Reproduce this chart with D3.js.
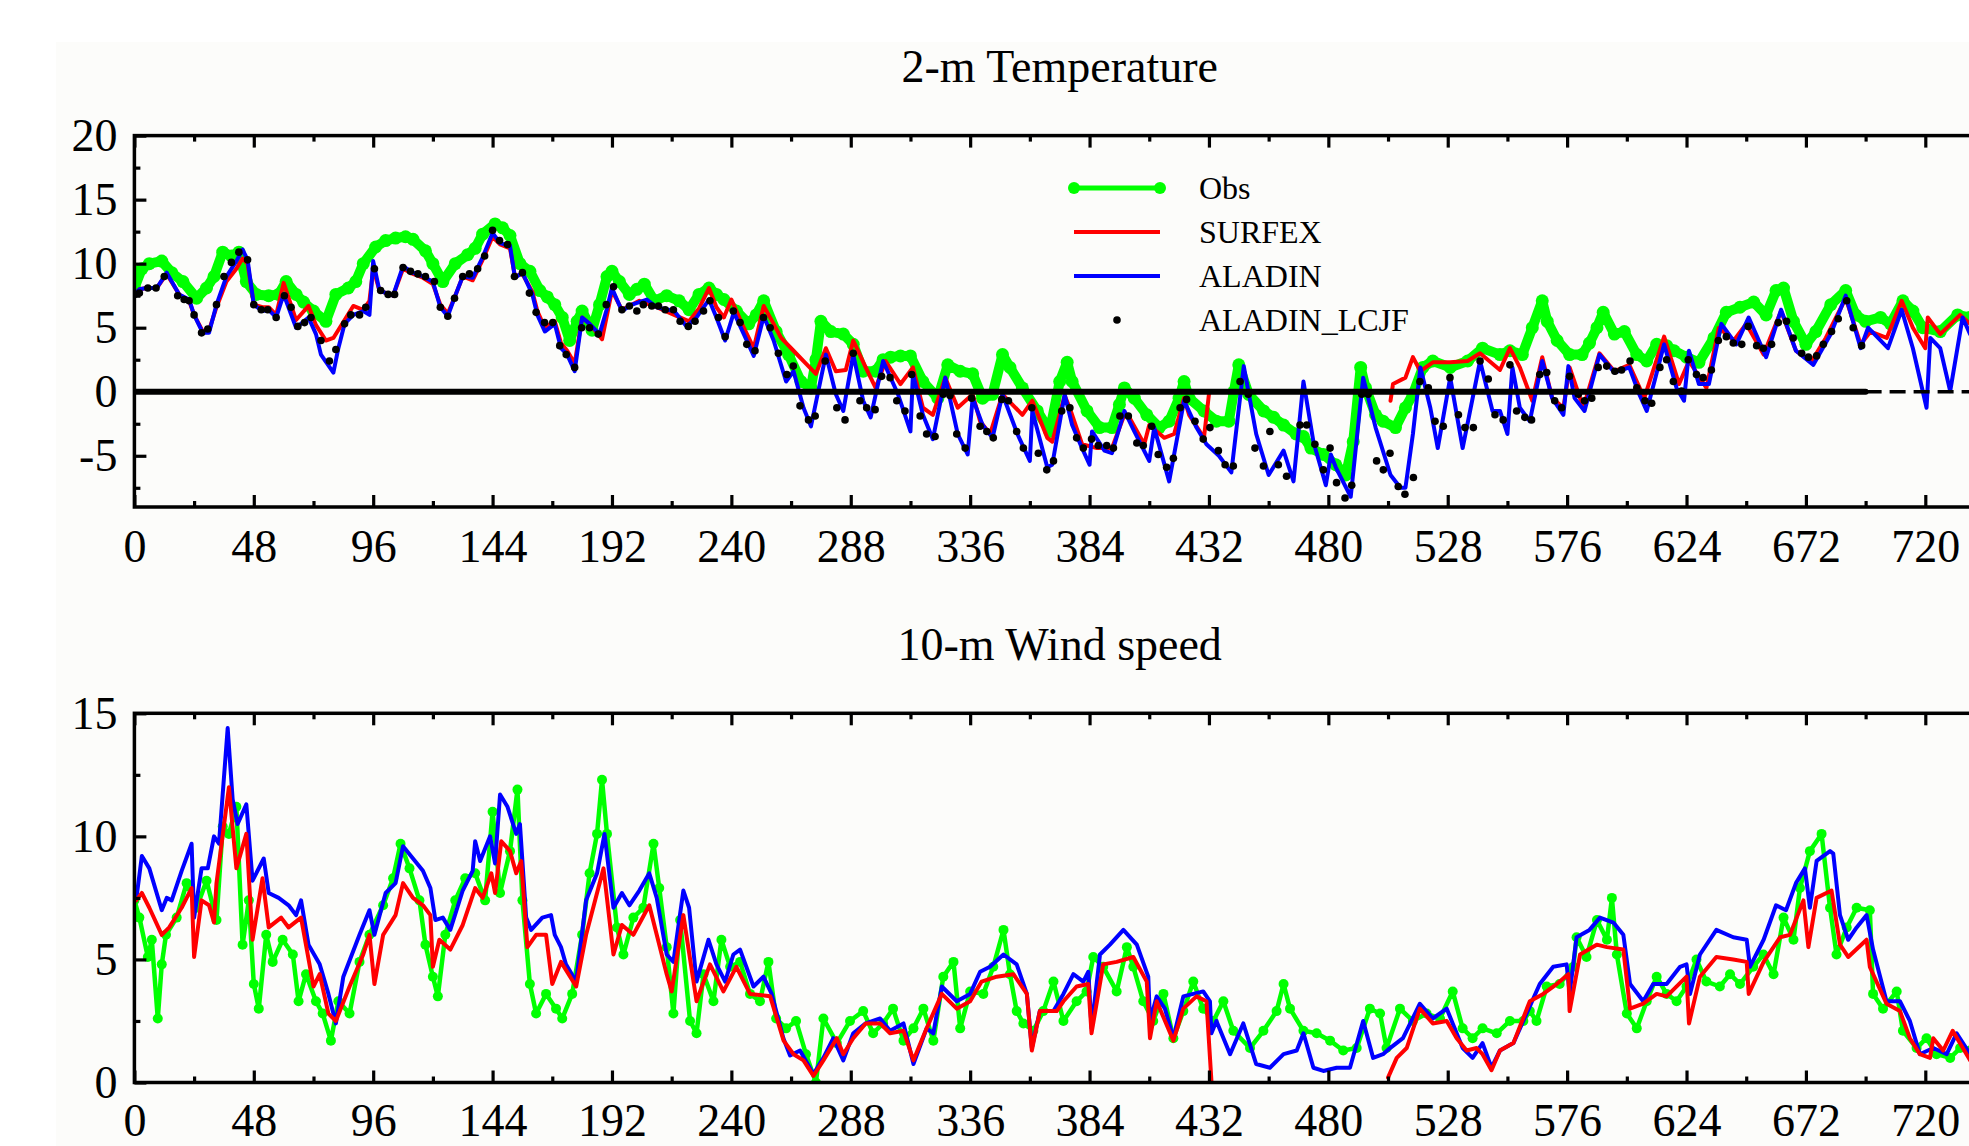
<!DOCTYPE html>
<html><head><meta charset="utf-8">
<script src="https://cdn.jsdelivr.net/npm/d3@7"></script>
<style>html,body{margin:0;padding:0;background:#fff;overflow:hidden}svg{display:block}</style>
</head><body><svg id="c" width="1969" height="1146"></svg>
<script>
// ---------------- DATA (hour, value) ----------------
const xMajorTicks = [0,48,96,144,192,240,288,336,384,432,480,528,576,624,672,720];
const xMinorTicks = [24,72,120,168,216,264,312,360,408,456,504,552,600,648,696,744];
const tYMajor = [-5,0,5,10,15,20];
const tYMinor = [-7.5,-2.5,2.5,7.5,12.5,17.5];
const wYMajor = [0,5,10,15];
const wYMinor = [2.5,7.5,12.5];
const legendNames = ["Obs","SURFEX","ALADIN","ALADIN_LCJF"];

// 2-m temperature: observations
const tObs = [[0,8.1],[3,9.6],[6,10.0],[11,10.2],[15,9.3],[19.5,8.6],[25,7.3],[29,8.1],[32,9.0],[35.5,10.9],[39,10.6],[42,10.9],[45,8.6],[49,7.6],[54,7.5],[58,7.6],[61,8.6],[65,7.6],[68,7.0],[72,6.3],[77,5.5],[81,7.6],[86,8.1],[89,8.6],[92,10.0],[97,11.3],[101,11.8],[105,12.0],[109,12.1],[112,11.9],[117,11.0],[120,10.0],[124,8.6],[129,10.0],[134,10.7],[137,11.2],[140,12.3],[145,13.1],[148,12.8],[151,12.2],[155,10.0],[159,9.4],[163,7.9],[166,7.4],[169,6.8],[172,5.8],[175,4.0],[178,5.5],[180,6.3],[184,4.8],[187,6.8],[190,9.0],[192,9.4],[195,8.6],[199,7.6],[202,8.0],[205,8.4],[209,7.1],[214,7.5],[219,7.1],[223,6.4],[227,7.6],[231,8.1],[234,7.6],[237,7.2],[242,6.3],[247,5.3],[250,6.0],[253,7.1],[258,4.7],[263,2.9],[268,0.8],[272,0.3],[274,2.5],[276,5.5],[280,4.7],[285,4.5],[289,3.7],[293,1.6],[298,1.6],[301,2.5],[304,2.7],[308,2.8],[312,2.8],[317,0.8],[323,-0.5],[327,2.1],[332,1.6],[337,1.4],[341,-0.5],[345,-0.2],[349,2.9],[352,1.9],[357,0.3],[363,-1.5],[368,-3.1],[372,0.8],[375,2.3],[377,0.8],[383,-1.5],[388,-2.8],[393,-2.8],[396,-1.0],[398,0.3],[402,-0.5],[407,-1.8],[412,-2.8],[416,-2.3],[420,-0.5],[422,0.8],[424,-0.5],[430,-1.5],[435,-2.3],[440,-2.3],[442,0.0],[444,2.1],[448,-0.2],[454,-1.5],[458,-2.0],[462,-2.6],[467,-3.3],[470,-3.5],[473,-4.4],[478,-4.9],[483,-5.7],[487,-6.5],[490,-3.9],[493,1.9],[495,0.3],[499,-1.8],[502,-2.3],[507,-2.8],[511,-1.25],[514,-0.2],[518,1.9],[522,2.4],[529,1.9],[536,2.4],[542,3.4],[549,2.9],[553,3.2],[558,2.9],[562,5.0],[566,7.1],[568,5.5],[572,4.0],[577,2.9],[582,2.9],[585,3.8],[588,5.0],[590.5,6.2],[595,4.5],[599,4.7],[604,2.9],[608,2.4],[612,3.7],[616,3.6],[619,3.2],[624,2.7],[629,2.3],[635,4.2],[640,6.2],[645.5,6.6],[651,7.0],[656,6.0],[660,7.9],[663,8.1],[667,5.5],[672,3.7],[676,4.7],[682,6.8],[688,7.9],[692,6.0],[696,5.5],[702,5.8],[706,5.3],[711,7.1],[715,6.3],[719,5.0],[726,4.7],[733,6.0],[738,5.8]];

// 2-m temperature: SURFEX (gap = missing run)
const tSfx = [[0,7.6],[2,8.0],[5,8.1],[9,8.1],[13,9.2],[18,7.6],[22,7.1],[24,6.0],[27.5,4.7],[30,4.8],[33,6.6],[37,8.6],[41,9.6],[43.5,10.4],[45.5,10.0],[48,6.8],[51.5,6.6],[54,6.6],[57,6.0],[60,8.5],[65,5.6],[70,6.7],[73,5.2],[77,4.0],[80,4.2],[84.5,5.6],[88,6.7],[92,6.4],[94.5,7.1],[96,9.6],[98.5,7.9],[104,7.5],[108,9.6],[112,9.2],[116,8.9],[120,8.4],[123,6.8],[126,6.1],[129,7.5],[132,9.0],[136,8.7],[140,10.3],[144,12.1],[147,11.5],[151,11.2],[153,9.0],[156,9.2],[160,7.8],[162,6.3],[165,5.0],[169,5.5],[171.5,3.8],[174,3.2],[177,2.2],[180,5.8],[183,5.3],[188,4.1],[192,7.9],[196,6.4],[203,7.1],[210,6.6],[217,6.0],[223,5.5],[227,6.5],[231,8.1],[234,6.6],[237,5.8],[240,7.2],[245,5.0],[249,3.4],[253,6.7],[257,5.3],[260,4.2],[265,3.2],[270,2.2],[274,1.4],[278,3.4],[282,1.6],[286,1.7],[289,4.0],[294,1.9],[298,0.3],[302,2.4],[308,0.6],[313,1.9],[317,-1.25],[321,-1.8],[326,1.1],[331,-1.25],[337,-0.2],[340,-2.3],[344,-3.3],[349,-0.2],[357,-1.8],[361,-0.7],[367,-3.6],[369,-3.9],[374,-0.3],[376,-1.25],[381,-4.1],[387,-4.4],[393,-4.4],[398,-1.8],[400,-2.0],[406,-4.1],[408,-2.6],[414,-3.6],[418,-3.3],[422,-0.5],[424,-1.8],[430,-3.6],[432,-0.2],[468,null],[505,-0.7],[506,0.6],[511,1.1],[514,2.7],[517,1.6],[522,2.3],[529,2.3],[536,2.4],[541,3.0],[549,1.7],[553,3.4],[557,1.9],[562,-0.7],[566,2.7],[570,-0.5],[574.5,-1.25],[577,1.9],[582.5,-1.25],[589,3.0],[595,1.6],[601,2.1],[607,-0.5],[615,4.3],[621,0.6],[625,2.4],[632,0.3],[637,5.0],[643,4.0],[648,5.3],[655,2.9],[662,6.3],[668,3.2],[674,2.3],[680,4.2],[688,7.3],[694,3.7],[698,4.7],[704.5,4.2],[710.5,7.1],[715,5.0],[720,3.4],[721,5.8],[726,4.5],[734,6.0],[738,5.3]];

// 2-m temperature: ALADIN
const tAla = [[0,7.6],[2,8.0],[5,8.1],[9,8.1],[13,9.3],[18,7.6],[22,7.2],[24,6.0],[27.5,4.6],[30,4.6],[33,6.8],[37,9.0],[41,10.2],[43.5,11.1],[45.5,10.3],[48,6.8],[51.5,6.3],[54,6.4],[57,5.8],[60,7.6],[65,5.0],[70,5.8],[73,4.5],[75,2.9],[80,1.5],[82,3.4],[84.5,5.3],[88,6.0],[92,6.3],[94.5,6.0],[96,10.2],[98.5,7.9],[104,7.5],[108,9.8],[112,9.3],[116,9.0],[120,8.6],[123,6.6],[126,5.9],[129,7.5],[132,9.0],[136,8.9],[140,10.5],[144,12.4],[147,11.6],[151,11.4],[153,8.9],[156,9.3],[160,7.6],[162,6.0],[165,4.7],[169,5.3],[171.5,3.4],[174,2.9],[177,1.6],[180,5.8],[183,5.3],[187,4.5],[190,6.5],[192,8.1],[196,6.3],[200,6.8],[206,7.2],[210,6.6],[217,6.3],[222,5.1],[226,5.8],[231,7.2],[234,5.8],[237.5,4.0],[241,6.2],[245,4.5],[249,2.8],[253,5.9],[257,4.0],[262,0.8],[265,1.6],[269,-1.25],[272,-2.7],[278,2.9],[282,-0.2],[285,-1.5],[289,2.9],[293,-0.7],[296,-2.0],[301,2.4],[307,-0.2],[312,-3.1],[313,1.4],[317,-1.8],[321,-3.7],[326,1.1],[331,-3.3],[335,-4.9],[337,-0.5],[341,-2.6],[345,-3.6],[349,-0.2],[355,-3.3],[360,-5.4],[361,-1.5],[367,-5.9],[369,-5.7],[374,-0.2],[377,-2.6],[381,-4.4],[384,-5.7],[385,-3.1],[390,-4.6],[393,-4.8],[398,-1.5],[402,-3.1],[408,-5.4],[410,-2.8],[416,-7.0],[422,-0.7],[427,-2.8],[431,-4.1],[436,-5.0],[441,-6.3],[446,2.0],[451,-3.3],[456,-6.5],[462,-4.6],[466,-7.0],[470,0.8],[474,-3.9],[479,-7.3],[481,-4.9],[483,-5.9],[489,-8.2],[494,1.1],[499,-2.8],[505,-6.5],[509,-7.5],[511,-7.5],[514,-3.3],[517,1.9],[521,-1.25],[524,-4.4],[529,1.1],[534,-4.4],[541,2.4],[546,-1.5],[549,-1.5],[552,-3.3],[554,1.9],[557,-1.25],[561,-2.3],[566,2.4],[570,-0.5],[574.5,-1.8],[576.5,2.0],[579,-0.5],[583,-1.5],[589,2.9],[595,1.5],[601,1.9],[605,-0.2],[608,-1.5],[615,3.7],[620,0.3],[623,-0.7],[625,3.2],[629,0.6],[633,0.6],[638,5.3],[644,3.7],[649,5.8],[656,2.7],[662,6.4],[668,3.2],[675,2.1],[682,4.5],[688,7.5],[694,3.4],[697,5.0],[705,3.4],[710.5,6.4],[715,3.4],[720.5,-1.25],[722,4.2],[726,3.4],[730,0.05],[735,5.8],[738,4.5]];

// 2-m temperature: ALADIN_LCJF (dots)
const tLcjf = [[0,7.6],[2,7.7],[5.4,8.1],[8.7,8.1],[12,9.0],[17.4,7.5],[20,7.2],[22,7.1],[24,6.0],[27,4.6],[29.5,4.9],[33,6.8],[36,9.0],[39,10.1],[42,10.9],[45.5,10.3],[48,6.8],[51,6.4],[53.6,6.4],[57,5.8],[60.3,7.5],[63,6.6],[65.7,5.1],[68.4,5.4],[71,5.8],[75,4.0],[78.4,2.4],[81,3.3],[84.5,5.3],[87,6.0],[90.5,6.0],[93,6.6],[96.5,9.6],[99,7.9],[102,7.6],[104.6,7.6],[108,9.7],[111,9.4],[114,9.2],[117,9.0],[120.6,8.6],[123,6.6],[126,5.9],[128.7,7.3],[132,9.0],[134.7,9.2],[138,9.6],[140.8,10.6],[144,12.6],[146.8,11.8],[150,11.5],[152.8,9.0],[156,9.3],[158.8,7.7],[161.5,6.2],[164.9,5.4],[168.2,5.4],[171,3.6],[173.6,2.9],[177,1.9],[179.8,5.0],[183,5.0],[186.5,4.5],[189.7,6.8],[192.6,8.2],[196,6.4],[199,6.7],[202,6.3],[204.6,6.8],[208,6.7],[210.7,6.7],[213.4,6.4],[216.7,6.4],[219.4,5.5],[222.7,5.1],[225.4,5.5],[228.8,6.3],[231.4,7.1],[234.8,5.8],[237.5,4.3],[240.8,6.3],[243.5,5.4],[246.2,3.7],[249.5,3.2],[252.9,5.8],[255.6,5.0],[258.9,3.0],[262.3,1.35],[264.9,2.0],[267.6,-1.1],[271,-2.2],[273.7,-1.9],[277.7,2.4],[282.4,-1.25],[285.7,-2.2],[289,3.0],[291.7,-0.7],[294.4,-1.25],[297.8,-1.4],[300.4,1.2],[303.8,1.1],[306.5,-0.7],[309.8,-1.5],[312.5,1.35],[315.9,-1.9],[318.5,-3.3],[321.9,-3.5],[325.2,-0.2],[327.9,-0.3],[330.6,-3.3],[334,-4.4],[336.6,-0.5],[340,-2.7],[342.7,-3.1],[345.3,-3.6],[348.7,-0.6],[351.4,-0.7],[354.7,-3.1],[357.4,-4.4],[360.8,-1.25],[363.4,-4.8],[366.8,-6.1],[369.5,-5.4],[372.8,-1.5],[376.1,-1.25],[378.8,-3.6],[381.5,-4.4],[384.8,-3.7],[387.5,-4.2],[390.9,-4.2],[393.6,-4.4],[396.2,-1.9],[399.6,-1.9],[403,-4.0],[405.6,-4.2],[409,-2.7],[411.6,-4.9],[415,-5.9],[417.7,-5.2],[420.4,-1.25],[423,-0.6],[426.4,-2.3],[429.7,-3.7],[432.4,-2.8],[435.8,-4.6],[438.5,-5.7],[441.8,-5.8],[444.5,0.8],[447.8,-0.2],[450.5,-4.4],[453.9,-5.8],[456.5,-3.1],[459.9,-5.7],[463.2,-6.6],[468.6,-2.6],[471.3,-2.6],[474.6,-4.1],[478,-6.1],[480.7,-4.4],[483.3,-7.1],[486.7,-8.3],[489.4,-7.3],[493.4,-0.2],[496,-0.2],[499.4,-5.4],[502.1,-6.1],[504.8,-4.8],[508.1,-7.4],[510.8,-8.0],[514.2,-6.7],[516.8,0.8],[520.2,0.3],[522.9,-2.3],[526.2,-2.7],[528.9,1.1],[532.3,-1.8],[534.9,-2.8],[538.3,-2.8],[541,2.4],[544.3,1.0],[547,-1.8],[550.3,-2.2],[553,2.1],[555.7,-1.5],[559,-2.0],[561.7,-2.2],[565,1.35],[567.8,1.5],[571,-0.7],[573.8,-1.25],[577,1.2],[580.5,-0.2],[583,-0.7],[585.9,-0.5],[588.5,1.9],[591.9,2.0],[595.2,1.6],[597.9,1.7],[601.3,2.4],[604,0.3],[607.3,-0.7],[610,-0.9],[613.3,1.9],[616,2.5],[618.7,0.8],[622,0.05],[624.7,2.5],[628,1.35],[630.7,1.1],[634,1.7],[636.8,4.0],[640,4.3],[642.8,3.8],[646.2,3.7],[648.8,5.1],[652.2,3.6],[654.9,3.4],[658.2,3.7],[660.9,5.4],[664.2,5.5],[666.9,4.2],[670.3,3.0],[673,2.7],[676.3,2.8],[679,3.7],[682.3,4.7],[685,5.7],[688.4,7.1],[691,5.0],[694.4,3.6]];

// zero reference line (solid part, then dashed part)
const tZeroSolid = [[0,0],[696,0]];
const tZeroDash = [[696,0],[744,0]];

// 10-m wind speed: observations
const wObs = [[0,7.4],[2,6.7],[5.4,5.1],[7,5.8],[9.4,2.6],[11,4.8],[12.7,6.0],[17,6.7],[21,8.1],[25,7.1],[29,8.2],[33,6.6],[35.5,10.4],[38,10.1],[41,11.2],[43.5,5.6],[46,7.4],[48,4.0],[50,3.0],[53,6.0],[55.6,4.9],[59.6,5.8],[63.7,5.2],[66,3.3],[69,4.4],[73,3.3],[75.7,2.8],[79,1.7],[82,3.3],[86.5,2.8],[90.5,4.9],[94.5,6.0],[100,7.2],[104,8.3],[107,9.7],[110.6,8.7],[114.6,7.4],[117,5.6],[120,4.3],[122,3.5],[125,6.0],[129,7.4],[133,8.3],[137,8.5],[141,7.4],[144,11.0],[147,7.7],[151,9.4],[154,11.9],[156,7.4],[159,4.0],[161.5,2.8],[165.5,3.6],[169.5,3.0],[172,2.6],[176,3.6],[180,6.0],[183,8.5],[186,10.1],[188,12.3],[190,10.1],[194,6.3],[196.6,5.2],[200.6,6.7],[204.6,7.1],[208.7,9.7],[211,7.9],[214,5.5],[216.7,2.8],[219.4,6.6],[223.4,2.5],[226,2.0],[228.8,4.4],[232.8,3.3],[236,5.8],[239.5,4.7],[243.5,4.9],[247.5,3.6],[251.5,3.3],[254.9,4.9],[258,2.6],[262,2.2],[266,2.5],[270,1.15],[274,0.0],[277,2.6],[282.4,1.6],[287.7,2.5],[293,2.9],[297,2.0],[301,2.4],[305,3.0],[309.2,1.7],[313.2,2.2],[317.2,3.0],[321.2,1.7],[325.2,4.3],[329.3,4.9],[332,2.2],[336,3.7],[341.3,3.6],[345.3,4.7],[349.4,6.2],[352,4.4],[354.7,2.9],[357.4,2.4],[361.4,2.1],[365.4,2.9],[369.5,4.1],[373.5,2.5],[378.8,3.3],[382.8,3.7],[385.5,5.1],[389.5,4.7],[394.9,3.7],[399,5.5],[401.6,4.7],[405.6,3.3],[409.6,2.5],[413.7,3.6],[417.7,1.8],[421.7,2.9],[425.7,4.1],[429.7,3.0],[433.8,2.5],[437.8,3.3],[441.8,2.1],[448.5,1.4],[453.9,2.1],[459.2,2.9],[462,4.0],[464.6,3.0],[470,2.1],[475.3,2.0],[480.7,1.7],[486,1.3],[491.4,1.4],[496.7,3.0],[500.8,2.8],[503.4,1.4],[508.8,3.0],[514,2.5],[519.5,2.8],[524.9,2.6],[530,3.7],[534,2.2],[538,1.8],[542,2.2],[547.7,2.0],[553,2.5],[558.4,2.5],[561,2.9],[563.7,2.5],[567.8,3.9],[573,4.0],[578.5,4.7],[579.8,5.9],[583.8,5.1],[588,6.6],[592,5.8],[594,7.5],[596,5.2],[600,2.8],[604,2.2],[608,3.3],[612,4.3],[616,3.6],[620,3.3],[624,3.9],[628,5.0],[632,4.1],[637.4,3.9],[641.5,4.4],[645.5,4.0],[650.8,4.7],[654.9,5.2],[659,4.4],[663,6.7],[667,5.8],[669.6,7.9],[673.6,9.4],[678.3,10.1],[681.7,7.1],[684.3,5.2],[688.4,6.3],[692.4,7.1],[697.7,7.0],[699,3.6],[703,3.0],[708.5,3.7],[711,2.1],[716.5,1.4],[720.5,1.8],[724.5,1.15],[730,1.0],[734,1.4],[738,1.3]];

// 10-m wind speed: SURFEX
const wSfx = [[0.7,7.4],[3,7.7],[6,7.1],[11,6.0],[14,6.3],[19,7.1],[23,7.9],[24,5.1],[27,7.4],[30,7.2],[32,6.5],[33,8.1],[38,12.0],[41,8.7],[45,10.1],[47.5,5.8],[51.5,8.3],[54,6.3],[59,6.7],[62,6.3],[67,6.7],[72,3.9],[74.5,4.4],[78,2.8],[81,2.5],[86.5,3.9],[92,5.2],[94.5,6.0],[96.5,4.0],[100,6.0],[105,6.8],[108,8.1],[112,7.5],[116,7.2],[119,6.8],[120,4.7],[122.6,5.8],[127,5.4],[132,6.4],[137,7.9],[140,7.5],[143.5,8.5],[145,7.7],[147.5,9.8],[151,9.4],[153.5,8.5],[155.5,9.0],[158,5.5],[161.5,6.0],[165.5,6.0],[168,4.0],[171.5,4.9],[177.6,3.9],[181.6,6.0],[188.6,8.7],[192.6,5.2],[196,6.4],[200.6,6.0],[207,7.2],[210,6.0],[214,4.4],[216,3.7],[220.7,6.8],[226,3.3],[231.4,4.8],[236.8,3.7],[242,4.7],[247.5,3.6],[255.6,3.5],[261,1.7],[265,1.15],[269,0.9],[273,0.27],[277,0.9],[282.4,1.8],[285,1.15],[289,1.8],[294,2.4],[299.8,2.4],[303.8,2.0],[309.2,2.1],[313.2,0.9],[318.5,2.2],[324.6,3.6],[330.6,3.0],[336,3.3],[340.6,4.1],[346.7,4.3],[353.4,4.4],[358.8,3.6],[360.8,1.3],[364,2.9],[370.8,2.9],[373.5,3.3],[378.8,3.9],[383.5,4.0],[384.8,2.0],[389.5,4.8],[394.9,4.9],[401.6,5.1],[407,4.1],[408.3,1.8],[411,3.3],[417.7,1.7],[421.7,3.0],[427,3.5],[431,3.3],[433,0.07],[468,null],[504,0.2],[507.5,1.0],[511.5,1.4],[516.8,3.0],[522,2.4],[527.6,2.5],[531.6,1.8],[535.6,1.3],[539.6,1.4],[542,1.15],[545.6,0.5],[549,1.3],[554.4,1.6],[561,3.3],[566.4,3.6],[571.8,4.0],[576.5,4.4],[577,2.9],[581.2,5.2],[587.9,5.6],[592,5.5],[598.6,5.4],[601.3,3.0],[606.6,3.2],[612,3.6],[616,3.5],[624,4.3],[625,2.4],[629.4,4.3],[636,5.1],[642.8,5.0],[648.2,4.9],[649,3.6],[655,4.9],[661.6,5.9],[665.6,6.0],[671,7.4],[673,5.5],[676.3,7.5],[682.3,7.8],[685.7,5.6],[689,5.1],[696.4,5.8],[697.7,4.7],[704.4,3.2],[709.8,2.9],[713.8,1.8],[717.8,1.15],[721.9,1.0],[723.2,1.8],[727.2,1.3],[731,2.1],[738,0.9]];

// 10-m wind speed: ALADIN
const wAla = [[0.7,7.4],[3,9.2],[6,8.7],[11,7.0],[13,7.5],[15,7.4],[19,8.6],[23,9.7],[24,6.7],[27,8.7],[29.5,8.7],[32,10.0],[34,9.7],[37.5,14.4],[39.5,11.5],[41.5,10.5],[45,11.3],[47.5,8.2],[52,9.1],[54,7.7],[58,7.5],[62,7.2],[65,6.8],[67,7.4],[70,5.6],[74.5,4.8],[78,3.6],[81,2.4],[84,4.3],[90.5,6.0],[94.5,7.0],[96.5,6.0],[101,7.7],[105,8.1],[108,9.6],[112,9.1],[116,8.6],[119,7.9],[121,6.6],[124,6.7],[127,6.2],[132,7.8],[136,8.6],[137,9.8],[139,9.0],[143,10.0],[145,8.9],[147,11.7],[150,11.2],[153.5,10.1],[155,10.5],[157.5,6.7],[159.5,6.2],[164,6.7],[167.5,6.8],[169,6.0],[171.5,5.5],[173.5,4.8],[177.6,4.1],[181.6,7.4],[186,8.5],[189,10.1],[192.6,7.1],[196,7.7],[199,7.2],[203,7.8],[207,8.5],[210,7.5],[214,5.2],[216.7,4.9],[220.7,7.8],[223,7.1],[226,4.1],[230.8,5.8],[234,4.8],[237.5,4.1],[240.8,5.2],[243.5,5.4],[248.9,3.9],[252.9,4.3],[256.2,3.6],[260.9,1.8],[263.6,1.1],[267.6,1.3],[273,0.34],[277,1.0],[281,1.8],[285,0.9],[289,2.0],[294,2.4],[299.8,2.6],[303.8,2.1],[309.2,2.4],[313.2,0.75],[318.5,2.2],[321.2,2.0],[324.6,3.9],[330.6,3.3],[336,3.6],[340,4.5],[344,4.7],[349.4,5.2],[354.7,4.8],[358.8,3.6],[360.8,1.4],[364,2.9],[369.5,2.9],[373.5,3.6],[377.5,4.4],[381.5,4.1],[383.5,4.5],[384.8,2.2],[388.2,5.2],[392.2,5.6],[397.6,6.2],[403,5.6],[407.6,4.3],[408.3,2.5],[411,3.5],[414.3,3.0],[417.7,1.8],[421.7,3.5],[425.7,3.6],[429.7,3.7],[432.4,3.3],[433,2.0],[435,2.5],[440.5,1.15],[445.8,2.4],[451,0.75],[456.5,0.6],[462,1.15],[467.3,1.3],[470,2.0],[474,0.6],[478,0.47],[483.3,0.6],[488.7,0.6],[494,2.5],[498,1.0],[502,1.15],[504.8,1.4],[510,1.8],[516.8,3.2],[522,2.6],[527.6,3.0],[530,2.4],[534,1.4],[538,1.0],[542,1.6],[545.6,0.6],[549,1.3],[554.4,1.6],[559.7,2.8],[565,4.0],[570.4,4.7],[575.8,4.8],[577,3.6],[579.8,5.9],[585,6.2],[589.2,6.7],[594.6,6.5],[598.6,6.0],[601.3,4.0],[606.6,3.3],[610.6,4.0],[616,4.0],[621.4,4.7],[624,4.8],[625.4,3.6],[629.4,5.2],[636,6.2],[642.8,5.9],[648.2,5.8],[649.5,4.7],[655,5.8],[660,7.2],[664,7.0],[668,8.1],[671.6,8.7],[673.6,7.1],[676.3,9.0],[681.7,9.4],[683,9.3],[685.7,6.8],[689,5.8],[692.4,6.3],[696.4,6.8],[699,5.4],[704.4,3.3],[709.8,3.3],[713.8,2.5],[717.8,1.15],[723.2,1.4],[728.6,1.15],[732.6,2.0],[738,1.15]];

// ---------------- DRAWING ----------------
const W = 1969, H = 1146;
const FONT = "'Liberation Serif','Times New Roman',Times,serif";
const svg = d3.select('#c');
svg.append('rect').attr('x',0).attr('y',0).attr('width',W).attr('height',H).attr('fill','#ffffff');
svg.append('rect').attr('x',56).attr('y',42).attr('width',W).attr('height',H).attr('fill','#fcfcfa');

const x = d3.scaleLinear().domain([0,744]).range([134.4,1985]);

function panel(o){
  const y = d3.scaleLinear().domain(o.ydom).range([o.bottom,o.top]);
  const id = 'clip' + o.key;
  svg.append('clipPath').attr('id',id).append('rect')
    .attr('x',x(0)).attr('y',o.top).attr('width',x(744)-x(0)).attr('height',o.bottom-o.top);
  const g = svg.append('g').attr('clip-path','url(#'+id+')');
  const line = d3.line().defined(d=>d[1]!=null).x(d=>x(d[0])).y(d=>y(d[1]));

  o.layers.forEach(L=>{
    if(L.type==='line'){
      g.append('path').datum(L.data).attr('d',line).attr('fill','none')
        .attr('stroke',L.color).attr('stroke-width',L.width)
        .attr('stroke-linejoin','round').attr('stroke-linecap',L.dash?'butt':'round')
        .attr('stroke-dasharray',L.dash||null);
      if(L.r){
        g.append('g').selectAll('circle').data(L.data.filter(d=>d[1]!=null)).join('circle')
          .attr('cx',d=>x(d[0])).attr('cy',d=>y(d[1])).attr('r',L.r).attr('fill',L.color);
      }
    } else if(L.type==='dots'){
      g.append('g').selectAll('circle').data(L.data).join('circle')
        .attr('cx',d=>x(d[0])).attr('cy',d=>y(d[1])).attr('r',L.r).attr('fill',L.color);
    }
  });

  const styleAxis = sel => { sel.select('.domain').remove();
    sel.selectAll('line').attr('stroke','#000').attr('stroke-width',3.2);
    sel.selectAll('text').attr('font-family',FONT).attr('font-size',46).attr('fill','#000'); };

  svg.append('g').attr('transform',`translate(0,${o.bottom})`)
    .call(d3.axisBottom(x).tickValues(xMajorTicks).tickSize(-12).tickPadding(o.xPad).tickFormat(d=>String(d)))
    .call(styleAxis);
  svg.append('g').attr('transform',`translate(0,${o.bottom})`)
    .call(d3.axisBottom(x).tickValues(xMinorTicks).tickSize(-6).tickFormat(''))
    .call(styleAxis);
  svg.append('g').attr('transform',`translate(0,${o.top})`)
    .call(d3.axisTop(x).tickValues(xMajorTicks).tickSize(-12).tickFormat(''))
    .call(styleAxis);
  svg.append('g').attr('transform',`translate(0,${o.top})`)
    .call(d3.axisTop(x).tickValues(xMinorTicks).tickSize(-6).tickFormat(''))
    .call(styleAxis);
  svg.append('g').attr('transform',`translate(${x(0)},0)`)
    .call(d3.axisLeft(y).tickValues(o.yMajor).tickSize(-12).tickPadding(17).tickFormat(d=>String(d)))
    .call(styleAxis);
  svg.append('g').attr('transform',`translate(${x(0)},0)`)
    .call(d3.axisLeft(y).tickValues(o.yMinor).tickSize(-6).tickFormat(''))
    .call(styleAxis);

  svg.append('rect').attr('x',x(0)).attr('y',o.top).attr('width',x(744)-x(0)).attr('height',o.bottom-o.top)
    .attr('fill','none').attr('stroke','#000').attr('stroke-width',3.5);

  svg.append('text').attr('x',(x(0)+x(744))/2).attr('y',o.titleY).attr('text-anchor','middle')
    .attr('font-family',FONT).attr('font-size',46).attr('fill','#000').text(o.title);
  return y;
}

panel({key:'t', top:135.6, bottom:507, ydom:[-9,20], yMajor:tYMajor, yMinor:tYMinor, xPad:22,
  title:'2-m Temperature', titleY:82,
  layers:[
    {type:'line', data:tObs, color:'#00ff00', width:10, r:6.5},
    {type:'line', data:tSfx, color:'#ff0000', width:4},
    {type:'line', data:tAla, color:'#0000ff', width:4},
    {type:'line', data:tZeroSolid, color:'#000', width:6},
    {type:'line', data:tZeroDash, color:'#000', width:3.5, dash:'16,8'},
    {type:'dots', data:tLcjf, color:'#000', r:3.8}
  ]});

panel({key:'w', top:713.3, bottom:1082.5, ydom:[0,15], yMajor:wYMajor, yMinor:wYMinor, xPad:21,
  title:'10-m Wind speed', titleY:660,
  layers:[
    {type:'line', data:wObs, color:'#00ff00', width:4.5, r:5},
    {type:'line', data:wAla, color:'#0000ff', width:4},
    {type:'line', data:wSfx, color:'#ff0000', width:4}
  ]});

// legend (temperature panel)
const legY = [188,232,276,320];
const lg = svg.append('g');
const legColors = ['#00ff00','#ff0000','#0000ff','#000'];
legendNames.forEach((name,i)=>{
  const yy = legY[i];
  if(i<3){
    lg.append('line').attr('x1',1074).attr('x2',1160).attr('y1',yy).attr('y2',yy)
      .attr('stroke',legColors[i]).attr('stroke-width',i===0?5:4);
    if(i===0){
      [1074,1160].forEach(cx=>lg.append('circle').attr('cx',cx).attr('cy',yy).attr('r',6).attr('fill',legColors[0]));
    }
  } else {
    lg.append('circle').attr('cx',1117).attr('cy',yy).attr('r',3.8).attr('fill','#000');
  }
  lg.append('text').attr('x',1199).attr('y',yy).attr('dy','0.35em')
    .attr('font-family',FONT).attr('font-size',32).attr('fill','#000').text(name);
});
</script></body></html>
